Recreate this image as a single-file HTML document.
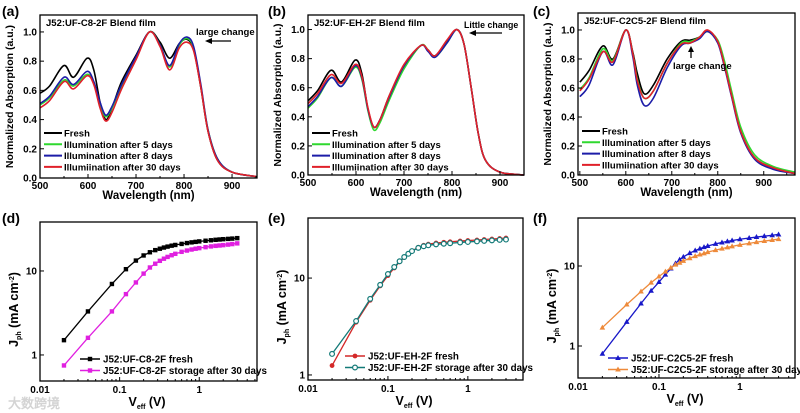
<!DOCTYPE html>
<html><head><meta charset="utf-8">
<style>
html,body{margin:0;padding:0;background:#fff;}
svg{display:block;font-family:"Liberation Sans",Arial,sans-serif;font-weight:bold;}
</style></head>
<body>
<svg id="fig" width="800" height="413" viewBox="0 0 800 413" xmlns="http://www.w3.org/2000/svg">
<text x="8" y="408" font-size="13" fill="#d4d4d4">大数跨境</text>
</svg>
<script>
// ---------- data: absorption spectra ----------
const waveA = [500,520,550,570,598,612,625,637,650,670,700,728,750,770,790,806,820,835,850,870,900,950];
const freshA = [0.58,0.63,0.77,0.69,0.82,0.74,0.52,0.40,0.48,0.66,0.84,1.0,0.93,0.82,0.92,0.95,0.88,0.62,0.32,0.12,0.04,0.01];
const day5A  = [0.50,0.55,0.67,0.63,0.71,0.65,0.50,0.42,0.48,0.63,0.82,1.0,0.91,0.76,0.91,0.955,0.89,0.63,0.33,0.13,0.04,0.01];
const day8A  = [0.51,0.56,0.69,0.64,0.73,0.66,0.52,0.43,0.49,0.64,0.83,1.0,0.91,0.77,0.92,0.965,0.90,0.64,0.33,0.13,0.04,0.01];
const day30A = [0.48,0.53,0.66,0.61,0.70,0.64,0.48,0.39,0.45,0.61,0.81,1.0,0.90,0.74,0.89,0.93,0.87,0.62,0.32,0.12,0.04,0.01];

const waveB = [500,520,548,570,598,612,625,637,650,670,700,735,750,765,790,810,825,840,855,870,900,950];
const freshB = [0.51,0.58,0.72,0.64,0.79,0.70,0.45,0.33,0.38,0.55,0.75,0.89,0.86,0.82,0.92,1.0,0.90,0.60,0.28,0.10,0.02,0.0];
const day5B  = [0.46,0.53,0.67,0.61,0.74,0.66,0.44,0.31,0.36,0.52,0.73,0.89,0.86,0.81,0.91,1.0,0.90,0.60,0.28,0.10,0.02,0.0];
const day8B  = [0.47,0.54,0.67,0.61,0.75,0.67,0.45,0.33,0.38,0.54,0.75,0.89,0.85,0.81,0.91,1.0,0.90,0.60,0.28,0.10,0.02,0.0];
const day30B = [0.49,0.56,0.69,0.63,0.76,0.68,0.46,0.33,0.38,0.55,0.76,0.89,0.86,0.82,0.93,1.0,0.90,0.60,0.28,0.10,0.02,0.0];

const waveC = [500,520,550,572,600,615,625,640,660,690,720,740,760,778,800,815,830,850,880,920,968];
const freshC = [0.64,0.72,0.89,0.80,1.0,0.85,0.70,0.56,0.62,0.80,0.92,0.93,0.95,0.99,0.92,0.75,0.55,0.30,0.12,0.05,0.01];
const day5C  = [0.59,0.67,0.87,0.79,1.0,0.84,0.66,0.53,0.58,0.77,0.91,0.92,0.95,0.99,0.93,0.78,0.58,0.33,0.14,0.06,0.02];
const day8C  = [0.54,0.62,0.85,0.76,1.0,0.82,0.62,0.48,0.53,0.74,0.89,0.91,0.94,0.99,0.91,0.74,0.54,0.29,0.11,0.04,0.01];
const day30C = [0.58,0.66,0.85,0.78,1.0,0.84,0.65,0.53,0.58,0.77,0.90,0.91,0.95,1.0,0.92,0.75,0.55,0.30,0.12,0.05,0.01];

const specXTicks = [500,600,700,800,900];
const specYTicks = [0.0,0.2,0.4,0.6,0.8,1.0];
const specLegend = ["Fresh","Illumination after 5 days","Illumination after 8 days","Illumiination after 30 days"];

// ---------- data: Jph vs Veff ----------
const veffD = [0.02,0.04,0.08,0.12,0.16,0.2,0.24,0.28,0.32,0.36,0.4,0.45,0.5,0.6,0.7,0.8,0.9,1.0,1.2,1.4,1.6,1.8,2.0,2.3,2.6,3.0];
const freshD = [1.5,3.3,7.0,10.5,13.3,15.3,16.7,17.7,18.4,19.0,19.5,20.0,20.4,21.0,21.5,21.9,22.2,22.5,22.9,23.2,23.5,23.7,23.9,24.1,24.3,24.6];
const storD  = [0.75,1.6,3.3,5.3,7.3,9.3,11.0,12.2,13.2,14.0,14.7,15.4,16.0,16.9,17.5,18.0,18.4,18.7,19.2,19.6,19.9,20.1,20.3,20.6,20.9,21.3];

const veffE = [0.02,0.04,0.06,0.08,0.1,0.12,0.14,0.16,0.18,0.2,0.24,0.28,0.32,0.4,0.5,0.6,0.8,1.0,1.3,1.6,2.0,2.5,3.0];
const freshE = [1.25,3.5,5.9,8.3,10.6,12.7,14.7,16.3,17.7,19.0,20.8,21.8,22.4,23.0,23.4,23.7,24.1,24.4,24.7,25.0,25.3,25.6,25.9];
const storE  = [1.65,3.6,6.1,8.5,11.0,13.0,14.9,16.5,17.8,19.0,20.5,21.3,21.8,22.3,22.6,22.9,23.3,23.6,23.9,24.2,24.5,24.8,25.0];

const veffF = [0.02,0.04,0.06,0.08,0.1,0.12,0.14,0.16,0.18,0.2,0.24,0.28,0.32,0.36,0.4,0.5,0.6,0.7,0.8,1.0,1.3,1.6,2.0,2.5,3.0];
const freshF = [0.8,2.0,3.4,4.9,6.3,7.8,9.3,10.8,12.0,13.0,14.5,15.6,16.5,17.2,17.8,18.9,19.7,20.3,20.8,21.6,22.4,23.0,23.6,24.2,24.8];
const storF  = [1.7,3.3,4.8,6.2,7.4,8.5,9.5,10.4,11.0,11.6,12.5,13.3,13.9,14.4,14.9,15.8,16.5,17.1,17.6,18.4,19.2,19.9,20.5,21.1,21.7];

const jvXTicks = [0.01,0.1,1];
const jvYTicks = [1,10];

// ---------- helpers ----------
const NS = "http://www.w3.org/2000/svg";
const svg = document.getElementById("fig");
function mk(tag, attrs, parent){
  const e = document.createElementNS(NS, tag);
  for (const k in attrs) e.setAttribute(k, attrs[k]);
  (parent||svg).appendChild(e);
  return e;
}
function smoothPath(pts){
  let d = "M"+pts[0][0].toFixed(2)+","+pts[0][1].toFixed(2);
  for (let i=0;i<pts.length-1;i++){
    const p0=pts[Math.max(0,i-1)], p1=pts[i], p2=pts[i+1], p3=pts[Math.min(pts.length-1,i+2)];
    const c1x=p1[0]+(p2[0]-p0[0])/6, c1y=p1[1]+(p2[1]-p0[1])/6;
    const c2x=p2[0]-(p3[0]-p1[0])/6, c2y=p2[1]-(p3[1]-p1[1])/6;
    d+=" C"+c1x.toFixed(2)+","+c1y.toFixed(2)+" "+c2x.toFixed(2)+","+c2y.toFixed(2)+" "+p2[0].toFixed(2)+","+p2[1].toFixed(2);
  }
  return d;
}
function panelLabel(txt, x, y, id){
  const t = mk("text",{x:x,y:y,"font-size":14,fill:"#000"});
  t.textContent = txt;
  
  
}

// ---------- spectra panels ----------
function spectrum(cfg){
  const g = mk("g",{});
  
  
  const X = v => cfg.l + (v-cfg.xd[0])/(cfg.xd[1]-cfg.xd[0])*(cfg.r-cfg.l);
  const Y = v => cfg.b - (v-0)/(cfg.ymax)*(cfg.b-cfg.t);
  const cols = ["#000","#2fd82f","#1c1ca8","#e0202a"];
  cfg.series.forEach((s,i)=>{
    const pts = cfg.wave.map((w,j)=>[X(w),Y(s[j])]);
    const p = mk("path",{d:smoothPath(pts),fill:"none",stroke:cols[i],"stroke-width":1.6},g);
    
    
  });
  const fr = mk("rect",{x:cfg.l,y:cfg.t,width:cfg.r-cfg.l,height:cfg.b-cfg.t,fill:"none",stroke:"#000","stroke-width":1.3},g);
  
  
  specXTicks.forEach(v=>{
    const x = X(v);
    mk("line",{x1:x,y1:cfg.b,x2:x,y2:cfg.b-4,stroke:"#000","stroke-width":1},g);
    const t = mk("text",{x:x,y:cfg.b+11,"font-size":10,"text-anchor":"middle"},g);
    t.textContent = v;
    
    
  });
  for (let v=550; v<cfg.xd[1]; v+=100){ const x=X(v); mk("line",{x1:x,y1:cfg.b,x2:x,y2:cfg.b-2,stroke:"#000"},g); }
  specYTicks.forEach(v=>{
    const y = Y(v);
    mk("line",{x1:cfg.l,y1:y,x2:cfg.l+4,y2:y,stroke:"#000","stroke-width":1},g);
    const t = mk("text",{x:cfg.l-3,y:y+3.5,"font-size":10,"text-anchor":"end"},g);
    t.textContent = v.toFixed(1);
    
    
  });
  const xt = mk("text",{x:(cfg.l+cfg.r)/2,y:cfg.b+21,"font-size":11.5,"text-anchor":"middle"},g);
  xt.textContent = "Wavelength (nm)";
  
  
  const yx = cfg.l-27, yy=(cfg.t+cfg.b)/2;
  const yt = mk("text",{x:yx,y:yy,"font-size":10.5,"text-anchor":"middle",transform:"rotate(-90 "+yx+" "+yy+")"},g);
  yt.textContent = "Normalized Absorption (a.u.)";
  
  
  const tt = mk("text",{x:cfg.l+6,y:cfg.t+11,"font-size":9.5},g);
  tt.textContent = cfg.title;
  
  
  specLegend.forEach((lab,i)=>{
    const y = cfg.t + 118 + i*11.3;
    const ln = mk("line",{x1:cfg.l+4,y1:y,x2:cfg.l+22,y2:y,stroke:cols[i],"stroke-width":2},g);
    
    
    const t = mk("text",{x:cfg.l+24,y:y+3.5,"font-size":9.5},g);
    t.textContent = lab;
    
    
  });
  return g;
}

spectrum({id:"a",l:40,t:15,r:257,b:178,xd:[500,952],ymax:1.116,wave:waveA,series:[freshA,day5A,day8A,day30A],title:"J52:UF-C8-2F Blend film"});
spectrum({id:"b",l:308,t:15,r:524,b:175,xd:[500,950],ymax:1.10,wave:waveB,series:[freshB,day5B,day8B,day30B],title:"J52:UF-EH-2F Blend film"});
spectrum({id:"c",l:578,t:13,r:795,b:175,xd:[496,968],ymax:1.117,wave:waveC,series:[freshC,day5C,day8C,day30C],title:"J52:UF-C2C5-2F Blend film"});

function annot(txt,x,y,name,fs){
  const t = mk("text",{x:x,y:y,"font-size":fs||9.5});
  t.textContent = txt;
  
  
}
annot("large change",196,35,"annotation-a");
mk("line",{x1:231,y1:41,x2:210,y2:41,stroke:"#000","stroke-width":1.3});
mk("path",{d:"M205,41 L212,38 L212,44 Z",fill:"#000"});
annot("Little change",464,28,"annotation-b",8.8);
mk("line",{x1:502,y1:33,x2:474,y2:33,stroke:"#000","stroke-width":1.3});
mk("path",{d:"M469,33 L476,30 L476,36 Z",fill:"#000"});
annot("large change",673,69,"annotation-c");
mk("line",{x1:691,y1:58,x2:691,y2:50,stroke:"#000","stroke-width":1.3});
mk("path",{d:"M691,46 L688,52 L694,52 Z",fill:"#000"});

panelLabel("(a)",2,16,"a");
panelLabel("(b)",268,16,"b");
panelLabel("(c)",533,16,"c");
panelLabel("(d)",2,223,"d");
panelLabel("(e)",268,223,"e");
panelLabel("(f)",533,223,"f");

// ---------- JV panels ----------
function marker(g,type,x,y,col,open){
  let e;
  if (type==="sq") e = mk("rect",{x:x-2.2,y:y-2.2,width:4.4,height:4.4,fill:col},g);
  else if (type==="ci") e = mk("circle",{cx:x,cy:y,r:2.4,fill:open?"#fff":col,stroke:col,"stroke-width":open?1.2:0},g);
  else e = mk("path",{d:"M"+x+","+(y-3)+" L"+(x+2.8)+","+(y+2)+" L"+(x-2.8)+","+(y+2)+" Z",fill:col},g);
  return e;
}
function jv(cfg){
  const g = mk("g",{});
  
  
  const X = v => cfg.l + (Math.log10(v)-cfg.xd[0])/(cfg.xd[1]-cfg.xd[0])*(cfg.r-cfg.l);
  const Y = v => cfg.b - (Math.log10(v)-cfg.yd[0])/(cfg.yd[1]-cfg.yd[0])*(cfg.b-cfg.t);
  cfg.series.forEach((s,i)=>{
    const pts = cfg.v.map((v,j)=>[X(v),Y(s[j])]);
    const p = mk("path",{d:"M"+pts.map(p=>p[0].toFixed(2)+","+p[1].toFixed(2)).join(" L"),fill:"none",stroke:cfg.cols[i],"stroke-width":1.3},g);
    
    
    pts.forEach(pt=>{
      const m = marker(g,cfg.mk,pt[0],pt[1],cfg.cols[i],cfg.open&&i===1);
      
      
    });
  });
  const fr = mk("rect",{x:cfg.l,y:cfg.t,width:cfg.r-cfg.l,height:cfg.b-cfg.t,fill:"none",stroke:"#000","stroke-width":1.3},g);
  
  
  jvXTicks.forEach(v=>{
    const x = X(v);
    mk("line",{x1:x,y1:cfg.b,x2:x,y2:cfg.b-4,stroke:"#000"},g);
    const t = mk("text",{x:x,y:cfg.b+12,"font-size":10,"text-anchor":"middle"},g);
    t.textContent = v;
    
    
    for (let k=2;k<10;k++){ const xx=X(v*k); if (xx<cfg.r) mk("line",{x1:xx,y1:cfg.b,x2:xx,y2:cfg.b-2,stroke:"#000"},g); }
  });
  jvYTicks.forEach(v=>{
    const y = Y(v);
    mk("line",{x1:cfg.l,y1:y,x2:cfg.l+4,y2:y,stroke:"#000"},g);
    const t = mk("text",{x:cfg.l-3,y:y+3.5,"font-size":10,"text-anchor":"end"},g);
    t.textContent = v;
    
    
  });
  const xt = mk("text",{x:(cfg.l+cfg.r)/2-20,y:cfg.b+25,"font-size":12.5},g);
  xt.innerHTML = 'V<tspan font-size="7" dy="3">eff</tspan><tspan dy="-3"> (V)</tspan>';
  
  
  const yx = cfg.l-22, yy=(cfg.t+cfg.b)/2+8;
  const yt = mk("text",{x:yx,y:yy,"font-size":12.5,"text-anchor":"middle",transform:"rotate(-90 "+yx+" "+yy+")"},g);
  yt.innerHTML = 'J<tspan font-size="7" dy="3">ph</tspan><tspan dy="-3"> (mA cm</tspan><tspan font-size="7" dy="-4">-2</tspan><tspan dy="4">)</tspan>';
  
  
  cfg.legend.forEach((lab,i)=>{
    const y = cfg.ly + i*11.5;
    const ln = mk("line",{x1:cfg.lx,y1:y,x2:cfg.lx+20,y2:y,stroke:cfg.cols[i],"stroke-width":1.5},g);
    
    
    marker(g,cfg.mk,cfg.lx+10,y,cfg.cols[i],cfg.open&&i===1);
    const t = mk("text",{x:cfg.lx+23,y:y+3.5,"font-size":9.8},g);
    t.textContent = lab;
    
    
  });
}
jv({id:"d",l:40,t:222,r:257,b:381,xd:[-2.0,0.725],yd:[-0.31,1.583],v:veffD,series:[freshD,storD],cols:["#000","#e020e0"],mk:"sq",
   legend:["J52:UF-C8-2F fresh","J52:UF-C8-2F storage after 30 days"],lx:80,ly:359});
jv({id:"e",l:308,t:218,r:523,b:380,xd:[-2.0,0.69],yd:[-0.052,1.62],v:veffE,series:[freshE,storE],cols:["#d42828","#137a78"],mk:"ci",open:true,
   legend:["J52:UF-EH-2F fresh","J52:UF-EH-2F storage after 30 days"],lx:345,ly:356});
jv({id:"f",l:578,t:218,r:795,b:378,xd:[-2.0,0.68],yd:[-0.4,1.6],v:veffF,series:[freshF,storF],cols:["#1818c8","#ee8a3a"],mk:"tri",
   legend:["J52:UF-C2C5-2F fresh","J52:UF-C2C5-2F storage after 30 days"],lx:608,ly:358});
</script>
</body></html>
